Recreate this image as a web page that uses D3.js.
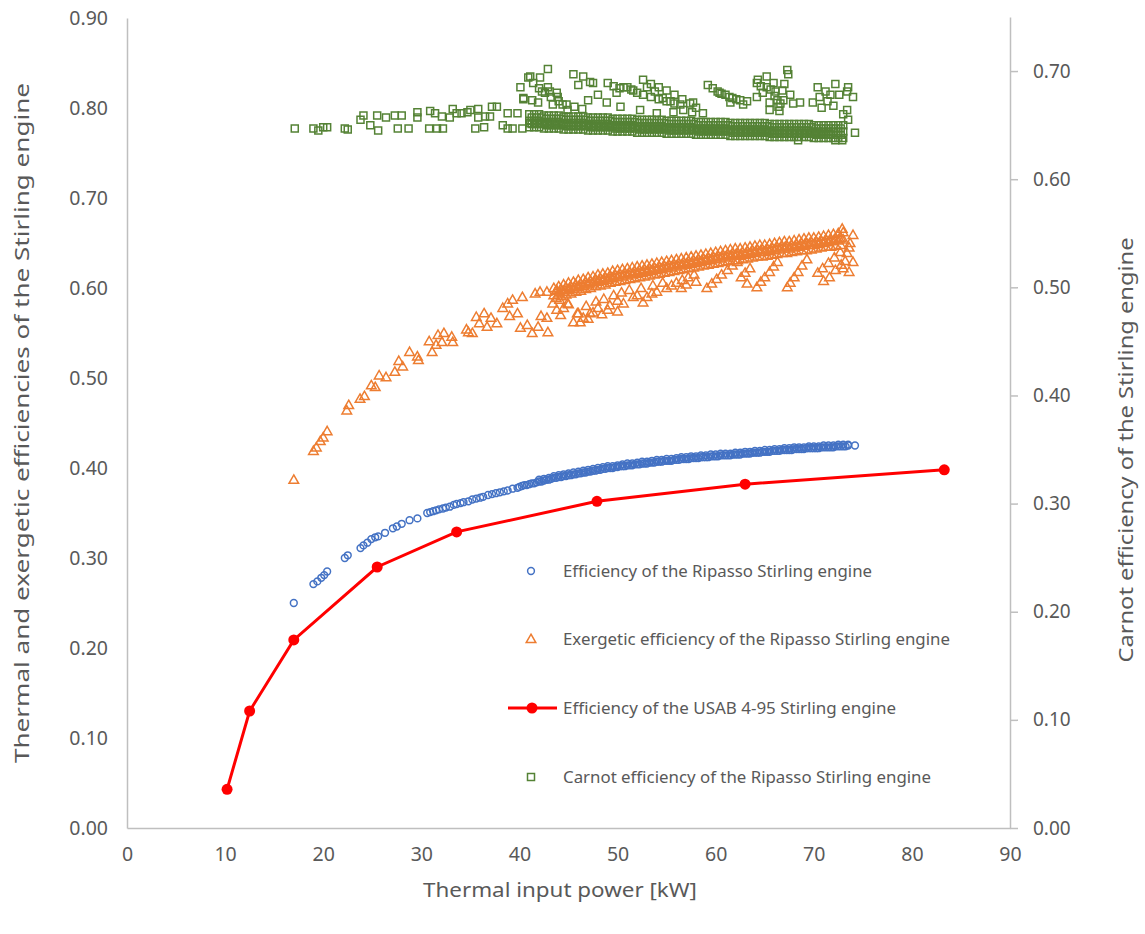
<!DOCTYPE html>
<html>
<head>
<meta charset="utf-8">
<script src="https://cdn.jsdelivr.net/npm/d3@7"></script>
<style>
  html, body { margin: 0; padding: 0; background: #ffffff; }
  svg { display: block; }
  text { font-family: "Noto Sans", "Open Sans", sans-serif; fill: #595959; }
</style>
</head>
<body>
<svg id="chart" width="1145" height="934"></svg>
<script>
// ---------------- DATA ----------------
const xTicks = [0, 10, 20, 30, 40, 50, 60, 70, 80, 90];
const yLeftTicks = [0, 0.1, 0.2, 0.3, 0.4, 0.5, 0.6, 0.7, 0.8, 0.9];
const yRightTicks = [0, 0.1, 0.2, 0.3, 0.4, 0.5, 0.6, 0.7];

const seriesNames = [
  "Efficiency of the Ripasso Stirling engine",
  "Exergetic efficiency of the Ripasso Stirling engine",
  "Efficiency of the USAB 4-95 Stirling engine",
  "Carnot efficiency of the Ripasso Stirling engine"
];

// USAB 4-95 engine (line with markers, left axis)
const usabX = [10.2, 12.5, 17.0, 25.5, 33.6, 47.9, 63.0, 83.3];
const usabY = [0.043, 0.130, 0.209, 0.290, 0.329, 0.363, 0.382, 0.398];

// Ripasso efficiency (circles, left axis)
const ripassoEff = [
  [17.0,.250],[19.0,.271],[19.4,.274],[19.8,.278],[20.1,.281],[20.4,.285],[22.2,.300],[22.5,.303],
  [23.8,.311],[24.1,.314],[24.5,.317],[24.9,.321],[25.3,.323],[25.6,.324],[26.3,.328],[27.1,.333],
  [27.5,.335],[28.0,.338],[28.8,.342],[29.6,.344],[30.6,.350],[30.9,.351],[31.2,.352],[31.5,.353],
  [31.8,.354],[32.2,.355],[32.5,.356],[32.9,.357],[33.3,.359],[33.6,.360],[34.0,.361],[34.3,.362],
  [34.8,.363],[35.2,.365],[35.6,.366],[36.0,.367],[36.3,.368],[36.8,.370],[37.2,.371],[37.6,.372],
  [38.0,.373],[38.4,.374],[38.8,.375],[39.3,.377],[39.8,.378],
  [40.0,.379],[40.25,.380],[40.5,.381],[40.75,.381],[41.0,.382],[41.25,.383],[41.5,.383],[41.75,.384],
  [42.0,.385],[42.25,.385],[42.5,.386],[42.75,.387],[43.0,.387],[43.25,.388],[43.5,.389],[43.75,.389],
  [44.0,.390],[44.25,.390],[44.5,.391],[44.75,.391],[45.0,.392],[45.25,.392],[45.5,.393],[45.75,.393],
  [46.0,.394],[46.25,.394],[46.5,.395],[46.75,.395],[47.0,.396],[47.25,.396],[47.5,.397],[47.75,.397],
  [48.0,.398],[48.25,.398],[48.5,.399],[48.75,.399],[49.0,.400],[49.25,.400],[49.5,.400],[49.75,.401],
  [50.0,.401],[50.25,.402],[50.5,.402],[50.75,.402],[51.0,.403],[51.25,.403],[51.5,.403],[51.75,.404],
  [52.0,.404],[52.25,.404],[52.5,.405],[52.75,.405],[53.0,.405],[53.25,.406],[53.5,.406],[53.75,.406],
  [54.0,.407],[54.25,.407],[54.5,.407],[54.75,.408],[55.0,.408],[55.25,.408],[55.5,.408],[55.75,.409],
  [56.0,.409],[56.25,.409],[56.5,.410],[56.75,.410],[57.0,.410],[57.25,.410],[57.5,.411],[57.75,.411],
  [58.0,.411],[58.25,.411],[58.5,.412],[58.75,.412],[59.0,.412],[59.25,.412],[59.5,.413],[59.75,.413],
  [60.0,.413],[60.25,.413],[60.5,.414],[60.75,.414],[61.0,.414],[61.25,.414],[61.5,.414],[61.75,.415],
  [62.0,.415],[62.25,.415],[62.5,.415],[62.75,.416],[63.0,.416],[63.25,.416],[63.5,.416],[63.75,.417],
  [64.0,.417],[64.25,.417],[64.5,.417],[64.75,.418],[65.0,.418],[65.25,.418],[65.5,.418],[65.75,.419],
  [66.0,.419],[66.25,.419],[66.5,.419],[66.75,.420],[67.0,.420],[67.25,.420],[67.5,.420],[67.75,.420],
  [68.0,.421],[68.25,.421],[68.5,.421],[68.75,.421],[69.0,.421],[69.25,.422],[69.5,.422],[69.75,.422],
  [70.0,.422],[70.25,.422],[70.5,.422],[70.75,.423],[71.0,.423],[71.25,.423],[71.5,.423],[71.75,.423],
  [72.0,.423],[72.25,.424],[72.5,.424],[72.75,.424],[73.0,.424],[73.25,.424],[73.5,.425],[74.2,.425]
];
// second (slightly higher) strand of the dense efficiency band
const effBandX = [42,42.5,43,43.5,44,44.5,45,45.5,46,46.5,47,47.5,48,48.5,49,49.5,50,50.5,51,51.5,52,52.5,53,53.5,
  54,54.5,55,55.5,56,56.5,57,57.5,58,58.5,59,59.5,60,60.5,61,61.5,62,62.5,63,63.5,64,64.5,65,65.5,66,66.5,67,67.5,
  68,68.5,69,69.5,70,70.5,71,71.5,72,72.5,73,73.5];
const effBandY = [.387,.388,.389,.391,.392,.393,.394,.395,.396,.397,.398,.399,.400,.401,.402,.402,.403,.404,.405,.405,
  .406,.407,.407,.408,.409,.409,.410,.410,.411,.412,.412,.413,.413,.414,.414,.415,.415,.416,.416,.416,.417,.417,.418,
  .418,.419,.419,.420,.420,.421,.421,.422,.422,.423,.423,.423,.424,.424,.424,.425,.425,.425,.426,.426,.426];

// Ripasso exergetic efficiency (triangles, left axis) - scattered points
const ripassoExergy = [
  [17.0,.387],[19.0,.419],[19.3,.423],[19.7,.430],[20.0,.434],[20.4,.441],[22.4,.464],[22.6,.470],
  [23.75,.477],[24.2,.480],[24.9,.492],[25.3,.490],[25.7,.503],[26.4,.501],[27.3,.507],[27.7,.519],
  [28.1,.513],[28.8,.529],[29.6,.524],[29.7,.520],[30.8,.541],[31.1,.529],[31.5,.537],[31.7,.548],
  [32.3,.550],[32.1,.540],[33.1,.546],[33.2,.540],[34.6,.554],[34.8,.551],[35.2,.550],[35.6,.568],
  [35.9,.561],[36.4,.572],[36.7,.557],[37.1,.567],[37.7,.561],[38.3,.578],[38.8,.583],[39.3,.587],
  [40.3,.590],[39.0,.569],[39.8,.572],[41.6,.594],[42.1,.596],[42.8,.596],[40.1,.556],[40.8,.559],
  [41.3,.550],[41.9,.557],[42.9,.551],[42.2,.569],[42.8,.567],[43.8,.598],[43.4,.583],[44.1,.587],
  [44.9,.583],[43.8,.576],[45.5,.562],[45.9,.572],
  [46.0,.572],[46.5,.567],[47.2,.572],[47.5,.573],[49.0,.576],[49.2,.581],[50.6,.583],[51.6,.590],
  [52.6,.584],[53.0,.590],[54.0,.596],[55.0,.600],[55.5,.603],[56.0,.606],[56.6,.609],[57.2,.612],
  [57.8,.615],[48.0,.578],[50.0,.586],[52.0,.592],
  [44.5,.578],[45.0,.582],[46.8,.580],[47.8,.585],[48.6,.588],[49.6,.592],[50.4,.595],[51.2,.598],
  [52.4,.600],[53.6,.603],[54.6,.606],[44.2,.570],[46.2,.562],[47.0,.566],[48.4,.571],[50.0,.574],
  [53.5,.594],[56.5,.600],[57.0,.604],[58.0,.607],
  [59.1,.600],[59.6,.605],[60.1,.610],[60.6,.615],[61.2,.620],[61.7,.625],[62.2,.629],
  [62.6,.612],[63.0,.617],[63.5,.622],[63.2,.605],
  [64.2,.601],[64.6,.607],[65.0,.612],[65.5,.618],[65.9,.624],[66.3,.629],
  [67.3,.601],[67.6,.606],[68.0,.612],[68.4,.618],[68.8,.625],[69.3,.632],
  [70.4,.617],[70.9,.622],[71.5,.628],[72.1,.634],[72.7,.640],
  [71.0,.608],[71.6,.612],[72.2,.620],[72.8,.626],[73.6,.618],
  [73.0,.622],[74.0,.629],[73.4,.639],[73.7,.650],[74.0,.659],[72.9,.666],[73.6,.645],[73.2,.630]
];
// dense exergetic band: five strands
const exBandXa = [43.5,44,44.5,45,45.5,46,46.5,47,47.5,48,48.5,49,49.5,50,50.5,51,51.5,52,52.5,53,53.5,54,54.5,55,
  55.5,56,56.5,57,57.5,58,58.5,59,59.5,60,60.5,61,61.5,62,62.5,63,63.5,64,64.5,65,65.5,66,66.5,67,67.5,68,68.5,69,
  69.5,70,70.5,71,71.5,72,72.5,73];
const exBandXb = [43.75,44.25,44.75,45.25,45.75,46.25,46.75,47.25,47.75,48.25,48.75,49.25,49.75,50.25,50.75,51.25,
  51.75,52.25,52.75,53.25,53.75,54.25,54.75,55.25,55.75,56.25,56.75,57.25,57.75,58.25,58.75,59.25,59.75,60.25,60.75,
  61.25,61.75,62.25,62.75,63.25,63.75,64.25,64.75,65.25,65.75,66.25,66.75,67.25,67.75,68.25,68.75,69.25,69.75,70.25,
  70.75,71.25,71.75,72.25,72.75];
const exBandXc = [44.1,44.6,45.1,45.6,46.1,46.6,47.1,47.6,48.1,48.6,49.1,49.6,50.1,50.6,51.1,51.6,52.1,52.6,53.1,53.6,
  54.1,54.6,55.1,55.6,56.1,56.6,57.1,57.6,58.1,58.6,59.1,59.6,60.1,60.6,61.1,61.6,62.1,62.6,63.1,63.6,64.1,64.6,65.1,
  65.6,66.1,66.6,67.1,67.6,68.1,68.6,69.1,69.6,70.1,70.6,71.1,71.6,72.1,72.6];
const exBand1 = [.600,.602,.604,.606,.607,.609,.610,.612,.613,.615,.616,.617,.619,.620,.621,.622,.623,.624,.625,.626,
  .627,.628,.629,.630,.631,.632,.633,.634,.635,.636,.637,.638,.639,.640,.641,.642,.643,.644,.644,.645,.646,.647,.648,
  .648,.649,.650,.651,.652,.652,.653,.654,.655,.656,.656,.657,.658,.659,.660,.661,.662];
const exBand2 = [.597,.599,.601,.602,.604,.605,.607,.608,.610,.611,.612,.614,.615,.616,.617,.618,.619,.620,.621,.622,
  .623,.624,.625,.626,.627,.628,.629,.630,.631,.632,.633,.634,.635,.636,.637,.638,.639,.639,.640,.641,.642,.643,.643,
  .644,.645,.646,.647,.647,.648,.649,.650,.650,.651,.652,.653,.654,.654,.655,.656];
const exBand3 = [.592,.594,.596,.598,.599,.601,.602,.604,.605,.607,.608,.609,.611,.612,.613,.614,.615,.616,.617,.618,
  .619,.620,.621,.622,.623,.624,.625,.626,.627,.628,.629,.630,.631,.632,.633,.634,.635,.636,.636,.637,.638,.639,.640,
  .640,.641,.642,.643,.644,.644,.645,.646,.647,.648,.648,.649,.650,.651,.652,.653,.654];
const exBand4 = [.589,.591,.593,.594,.596,.597,.599,.600,.602,.603,.604,.606,.607,.608,.609,.610,.611,.612,.613,.614,
  .615,.616,.617,.618,.619,.620,.621,.622,.623,.624,.625,.626,.627,.628,.629,.630,.631,.631,.632,.633,.634,.635,.635,
  .636,.637,.638,.639,.639,.640,.641,.642,.642,.643,.644,.645,.646,.646,.647,.648];
const exBand5 = [.596,.598,.600,.601,.603,.604,.606,.607,.609,.610,.611,.613,.614,.615,.616,.617,.618,.619,.620,.621,
  .622,.623,.624,.625,.626,.627,.628,.629,.630,.631,.632,.633,.634,.635,.636,.637,.638,.638,.639,.640,.641,.642,.642,
  .643,.644,.645,.646,.646,.647,.648,.649,.650,.650,.651,.652,.653,.654,.655];

// Ripasso Carnot efficiency (squares, right axis) - scattered points
const ripassoCarnot = [
  [17.1,.647],[19.0,.647],[19.5,.645],[20.0,.648],[20.4,.648],[22.2,.647],[22.5,.646],[23.8,.655],
  [24.1,.659],[24.8,.650],[25.5,.659],[25.6,.645],[26.4,.657],[27.3,.659],[27.6,.647],[28.0,.659],
  [28.7,.647],[29.6,.657],[29.6,.662],[30.8,.647],[30.9,.663],[31.4,.661],[31.6,.647],[32.2,.647],
  [32.1,.658],[32.9,.657],[33.2,.665],[33.6,.661],[34.1,.661],[34.7,.662],[35.0,.664],[35.5,.647],
  [35.8,.665],[35.8,.657],[36.4,.648],[36.5,.658],[37.0,.658],[37.2,.667],[37.7,.667],[38.3,.650],
  [38.8,.661],[38.8,.647],[39.3,.647],[39.8,.661],[40.3,.647],[40.1,.685],[40.4,.674],[40.9,.694],
  [41.1,.695],[42.1,.694],[42.9,.702],[41.4,.689],[40.4,.675],[41.3,.673],[41.9,.671],[42.3,.681],
  [42.9,.685],[43.1,.681],[43.8,.680],[43.9,.676],[43.4,.669],[44.4,.669],[44.9,.664],[45.5,.697],
  [46.5,.695],[46.0,.687],[47.2,.690],[47.5,.689],[47.0,.673],[48.0,.678],[49.0,.689],[49.9,.680],
  [50.6,.685],[51.0,.685],[51.6,.682],[52.6,.692],[53.0,.685],[53.8,.681],[54.6,.675],[55.4,.672],
  [56.4,.669],[57.6,.662],[58.7,.661],[59.2,.687],[60.2,.681],[61.0,.678],[61.7,.675],[62.5,.673],
  [63.2,.672],[64.2,.689],[64.3,.692],[65.2,.695],[65.2,.685],[65.9,.689],[66.1,.681],[66.3,.673],
  [66.4,.667],[67.3,.701],[67.4,.697],[64.2,.676],[64.8,.680],[65.5,.671],[66.9,.673],[68.6,.671],
  [70.4,.685],[71.2,.681],[71.7,.678],[73.4,.681],[73.5,.685],[74.0,.676],[73.4,.664],[73.0,.660],
  [73.5,.655],[74.2,.643],[72.9,.636],[72.2,.636],[70.6,.676],[69.9,.671],[68.4,.636],
  [48.9,.671],[50.3,.667],[52.3,.664],[54.0,.661],[55.7,.662],[56.7,.664],[57.7,.671],[60.4,.680],
  [61.5,.671],[62.8,.669],
  [42.0,.684],[42.6,.680],[43.2,.676],[44.0,.672],[44.8,.669],[45.6,.667],[46.4,.665],
  [49.6,.686],[50.2,.684],[51.4,.683],[52.0,.680],[52.6,.678],[53.4,.676],[54.2,.674],[55.0,.672],[55.8,.670],
  [53.4,.688],[54.2,.685],[55.0,.682],[55.8,.678],[56.6,.674],[57.4,.670],[58.0,.666],
  [59.7,.684],[60.6,.679],[61.4,.676],[62.1,.674],
  [64.6,.686],[65.6,.683],[66.0,.677],[66.6,.670],[66.8,.682],[67.0,.688],[67.6,.678],[67.9,.670],[66.5,.663],[65.5,.664],
  [70.8,.666],[71.4,.672],[72.0,.668],[72.6,.678],[72.2,.688]
];
// dense Carnot band: six strands
const caBandXa = [41,41.5,42,42.5,43,43.5,44,44.5,45,45.5,46,46.5,47,47.5,48,48.5,49,49.5,50,50.5,51,51.5,52,52.5,
  53,53.5,54,54.5,55,55.5,56,56.5,57,57.5,58,58.5,59,59.5,60,60.5,61,61.5,62,62.5,63,63.5,64,64.5,65,65.5,66,66.5,
  67,67.5,68,68.5,69,69.5,70,70.5,71,71.5,72,72.5,73];
const caBandXb = [41.25,41.75,42.25,42.75,43.25,43.75,44.25,44.75,45.25,45.75,46.25,46.75,47.25,47.75,48.25,48.75,
  49.25,49.75,50.25,50.75,51.25,51.75,52.25,52.75,53.25,53.75,54.25,54.75,55.25,55.75,56.25,56.75,57.25,57.75,58.25,
  58.75,59.25,59.75,60.25,60.75,61.25,61.75,62.25,62.75,63.25,63.75,64.25,64.75,65.25,65.75,66.25,66.75,67.25,67.75,
  68.25,68.75,69.25,69.75,70.25,70.75,71.25,71.75,72.25,72.75];
const caBandXc = [41.1,41.6,42.1,42.6,43.1,43.6,44.1,44.6,45.1,45.6,46.1,46.6,47.1,47.6,48.1,48.6,49.1,49.6,50.1,50.6,
  51.1,51.6,52.1,52.6,53.1,53.6,54.1,54.6,55.1,55.6,56.1,56.6,57.1,57.6,58.1,58.6,59.1,59.6,60.1,60.6,61.1,61.6,62.1,
  62.6,63.1,63.6,64.1,64.6,65.1,65.6,66.1,66.6,67.1,67.6,68.1,68.6,69.1,69.6,70.1,70.6,71.1,71.6];
const caBand1 = [.660,.660,.660,.659,.659,.659,.659,.658,.658,.658,.658,.658,.657,.657,.657,.657,.657,.656,.656,.656,
  .656,.656,.655,.655,.655,.655,.655,.655,.654,.654,.654,.654,.654,.654,.653,.653,.653,.653,.653,.653,.653,.652,.652,
  .652,.652,.652,.652,.652,.652,.651,.651,.651,.651,.651,.651,.651,.651,.651,.650,.650,.650,.650,.650,.650,.650];
const caBand2 = [.657,.657,.657,.656,.656,.656,.656,.655,.655,.655,.655,.655,.654,.654,.654,.654,.654,.653,.653,.653,
  .653,.653,.652,.652,.652,.652,.652,.652,.651,.651,.651,.651,.651,.651,.650,.650,.650,.650,.650,.650,.650,.649,.649,
  .649,.649,.649,.649,.649,.649,.648,.648,.648,.648,.648,.648,.648,.648,.648,.647,.647,.647,.647,.647,.647];
const caBand3 = [.654,.654,.654,.653,.653,.653,.653,.652,.652,.652,.652,.652,.651,.651,.651,.651,.651,.650,.650,.650,
  .650,.650,.649,.649,.649,.649,.649,.649,.648,.648,.648,.648,.648,.648,.647,.647,.647,.647,.647,.647,.647,.646,.646,
  .646,.646,.646,.646,.646,.646,.645,.645,.645,.645,.645,.645,.645,.645,.645,.644,.644,.644,.644,.644,.644,.644];
const caBand4 = [.651,.651,.651,.650,.650,.650,.650,.649,.649,.649,.649,.649,.648,.648,.648,.648,.648,.647,.647,.647,
  .647,.647,.646,.646,.646,.646,.646,.646,.645,.645,.645,.645,.645,.645,.644,.644,.644,.644,.644,.644,.644,.643,.643,
  .643,.643,.643,.643,.643,.643,.642,.642,.642,.642,.642,.642,.642,.642,.642,.641,.641,.641,.641,.641,.641];
const caBand5 = [.648,.648,.648,.647,.647,.647,.647,.646,.646,.646,.646,.646,.645,.645,.645,.645,.645,.644,.644,.644,
  .644,.644,.643,.643,.643,.643,.643,.643,.642,.642,.642,.642,.642,.642,.641,.641,.641,.641,.641,.641,.641,.640,.640,
  .640,.640,.640,.640,.640,.640,.639,.639,.639,.639,.639,.639,.639,.639,.639,.638,.638,.638,.638,.638,.638,.638];
const caBand6 = [.652,.652,.652,.652,.651,.651,.651,.651,.650,.650,.650,.650,.650,.649,.649,.649,.649,.649,.648,.648,
  .648,.648,.648,.647,.647,.647,.647,.647,.647,.646,.646,.646,.646,.646,.646,.645,.645,.645,.645,.645,.645,.645,.644,
  .644,.644,.644,.644,.644,.644,.644,.643,.643,.643,.643,.643,.643,.643,.643,.643,.642,.642,.642];

const colors = { eff: "#4472C4", exergy: "#ED7D31", usab: "#FF0000", carnot: "#548235", axis: "#BFBFBF" };

// ---------------- CHART ----------------
const svg = d3.select("#chart");
const x = d3.scaleLinear().domain([0, 90]).range([127, 1010]);
const yL = d3.scaleLinear().domain([0, 0.9]).range([828, 18]);
const yR = d3.scaleLinear().domain([0, 0.75]).range([828, 17]);
const fmt = d3.format(".2f");

const effAll = ripassoEff.concat(d3.zip(effBandX, effBandY));
const exAll = ripassoExergy.concat(
  d3.zip(exBandXa, exBand3), d3.zip(exBandXb, exBand4), d3.zip(exBandXc, exBand5),
  d3.zip(exBandXb, exBand2), d3.zip(exBandXa, exBand1));
const caAll = ripassoCarnot.concat(
  d3.zip(caBandXa, caBand5), d3.zip(caBandXb, caBand4), d3.zip(caBandXc, caBand6),
  d3.zip(caBandXa, caBand3), d3.zip(caBandXb, caBand2), d3.zip(caBandXa, caBand1));

// Left axis
const gL = svg.append("g").attr("transform", `translate(${x(0)},0)`)
  .call(d3.axisLeft(yL).tickValues(yLeftTicks).tickSize(0).tickPadding(19).tickFormat(fmt));
// Bottom axis
const gB = svg.append("g").attr("transform", `translate(0,${yL(0)})`)
  .call(d3.axisBottom(x).tickValues(xTicks).tickSize(0).tickPadding(19).tickFormat(d3.format("d")));
// Right axis
const gR = svg.append("g").attr("transform", `translate(${x(90)},0)`)
  .call(d3.axisRight(yR).tickValues(yRightTicks).tickSize(8).tickSizeOuter(0).tickPadding(15).tickFormat(fmt));

[gL, gB, gR].forEach(g => {
  g.select(".domain").attr("stroke", colors.axis).attr("stroke-width", 1.5);
  g.selectAll(".tick line").attr("stroke", colors.axis).attr("stroke-width", 1.5);
  g.selectAll(".tick text").attr("fill", "#595959").style("font-size", "19.5px")
    .style("font-family", '"Noto Sans", sans-serif');
});
gR.selectAll(".tick text").style("font-size", "19px");

// Axis titles
svg.append("text").attr("transform", "translate(29,423) rotate(-90)")
  .attr("text-anchor", "middle").style("font-size", "20px")
  .attr("textLength", 680).attr("lengthAdjust", "spacingAndGlyphs")
  .text("Thermal  and exergetic efficiencies of the Stirling engine");
svg.append("text").attr("transform", "translate(1133,450) rotate(-90)")
  .attr("text-anchor", "middle").style("font-size", "20px")
  .attr("textLength", 425).attr("lengthAdjust", "spacingAndGlyphs")
  .text("Carnot efficiency of the Stirling engine");
svg.append("text").attr("x", 560).attr("y", 897)
  .attr("text-anchor", "middle").style("font-size", "20px")
  .attr("textLength", 274).attr("lengthAdjust", "spacingAndGlyphs")
  .text("Thermal input power [kW]");

// Marker shapes
const triPath = "M0,-4.8L4.8,3.6L-4.8,3.6Z";
const sqPath = "M-3.5,-3.5H3.5V3.5H-3.5Z";

// Ripasso efficiency circles
svg.append("g").selectAll("circle").data(effAll).join("circle")
  .attr("cx", d => x(d[0])).attr("cy", d => yL(d[1])).attr("r", 3.4)
  .attr("fill", "none").attr("stroke", colors.eff).attr("stroke-width", 1.5);

// Exergetic triangles
svg.append("g").selectAll("path").data(exAll).join("path")
  .attr("d", triPath).attr("transform", d => `translate(${x(d[0])},${yL(d[1])})`)
  .attr("fill", "none").attr("stroke", colors.exergy).attr("stroke-width", 1.5);

// USAB line
const usab = d3.zip(usabX, usabY);
svg.append("path").datum(usab)
  .attr("d", d3.line().x(d => x(d[0])).y(d => yL(d[1])))
  .attr("fill", "none").attr("stroke", colors.usab).attr("stroke-width", 3);
svg.append("g").selectAll("circle").data(usab).join("circle")
  .attr("cx", d => x(d[0])).attr("cy", d => yL(d[1])).attr("r", 5.5)
  .attr("fill", colors.usab);

// Carnot squares (right axis)
svg.append("g").selectAll("path").data(caAll).join("path")
  .attr("d", sqPath).attr("transform", d => `translate(${x(d[0])},${yR(d[1])})`)
  .attr("fill", "none").attr("stroke", colors.carnot).attr("stroke-width", 1.5);

// Legend
const legendRows = [571, 639, 708, 777];
const legendLens = [309, 387, 333, 368];
const lg = svg.append("g");
lg.append("circle").attr("cx", 531).attr("cy", legendRows[0]).attr("r", 3.4)
  .attr("fill", "none").attr("stroke", colors.eff).attr("stroke-width", 1.5);
lg.append("path").attr("d", triPath).attr("transform", `translate(531,${legendRows[1]})`)
  .attr("fill", "none").attr("stroke", colors.exergy).attr("stroke-width", 1.5);
lg.append("line").attr("x1", 508).attr("x2", 557).attr("y1", legendRows[2]).attr("y2", legendRows[2])
  .attr("stroke", colors.usab).attr("stroke-width", 3);
lg.append("circle").attr("cx", 532).attr("cy", legendRows[2]).attr("r", 5.5).attr("fill", colors.usab);
lg.append("path").attr("d", sqPath).attr("transform", `translate(531,${legendRows[3]})`)
  .attr("fill", "none").attr("stroke", colors.carnot).attr("stroke-width", 1.5);
seriesNames.forEach((name, i) => {
  lg.append("text").attr("x", 563).attr("y", legendRows[i]).attr("dy", "0.35em")
    .style("font-size", "16px").attr("textLength", legendLens[i]).attr("lengthAdjust", "spacingAndGlyphs")
    .text(name);
});
</script>
</body>
</html>
